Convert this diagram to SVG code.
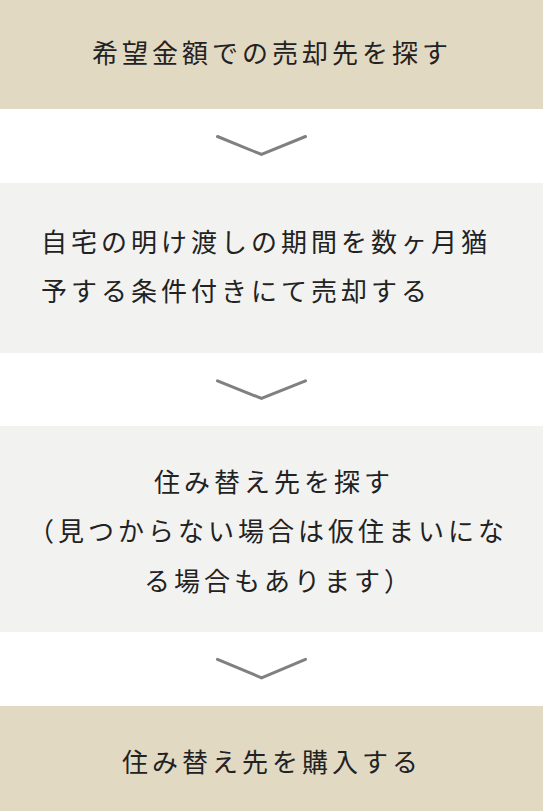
<svg xmlns="http://www.w3.org/2000/svg" width="543" height="811" viewBox="0 0 543 811">
<style>
.beige{fill:#e2d9c3}
.gray{fill:#f2f2f1}
.t{font-family:"Noto Sans CJK JP","Noto Sans CJK SC",sans-serif;font-size:26px;letter-spacing:4px;fill:#222}
.chev{fill:none;stroke:#808080;stroke-width:3;stroke-linecap:round;stroke-linejoin:miter}
</style>
<rect width="543" height="811" fill="#ffffff"/>
<g id="step1">
<rect class="beige" x="0" y="0" width="543" height="109"/>
<text class="t" x="92" y="63">希望金額での売却先を探す</text>
</g>
<g id="step2">
<rect class="gray" x="0" y="183" width="543" height="170"/>
<text class="t" x="41" y="252">自宅の明け渡しの期間を数ヶ月猶</text>
<text class="t" x="41" y="301">予する条件付きにて売却する</text>
</g>
<g id="step3">
<rect class="gray" x="0" y="426" width="543" height="206"/>
<text class="t" x="154" y="492">住み替え先を探す</text>
<text class="t" x="28" y="541">（見つからない場合は仮住まいにな</text>
<text class="t" x="144" y="591">る場合もあります）</text>
</g>
<g id="step4">
<rect class="beige" x="0" y="706" width="543" height="105"/>
<text class="t" x="122" y="772">住み替え先を購入する</text>
</g>
<g id="connectors">
<polyline class="chev" points="217.5,136.5 261.5,154.5 305.5,136.5"/>
<polyline class="chev" points="217.5,380.8 261.5,398.5 305.5,380.8"/>
<polyline class="chev" points="217.5,659.3 261.5,677.8 305.5,659.3"/>
</g>
</svg>
